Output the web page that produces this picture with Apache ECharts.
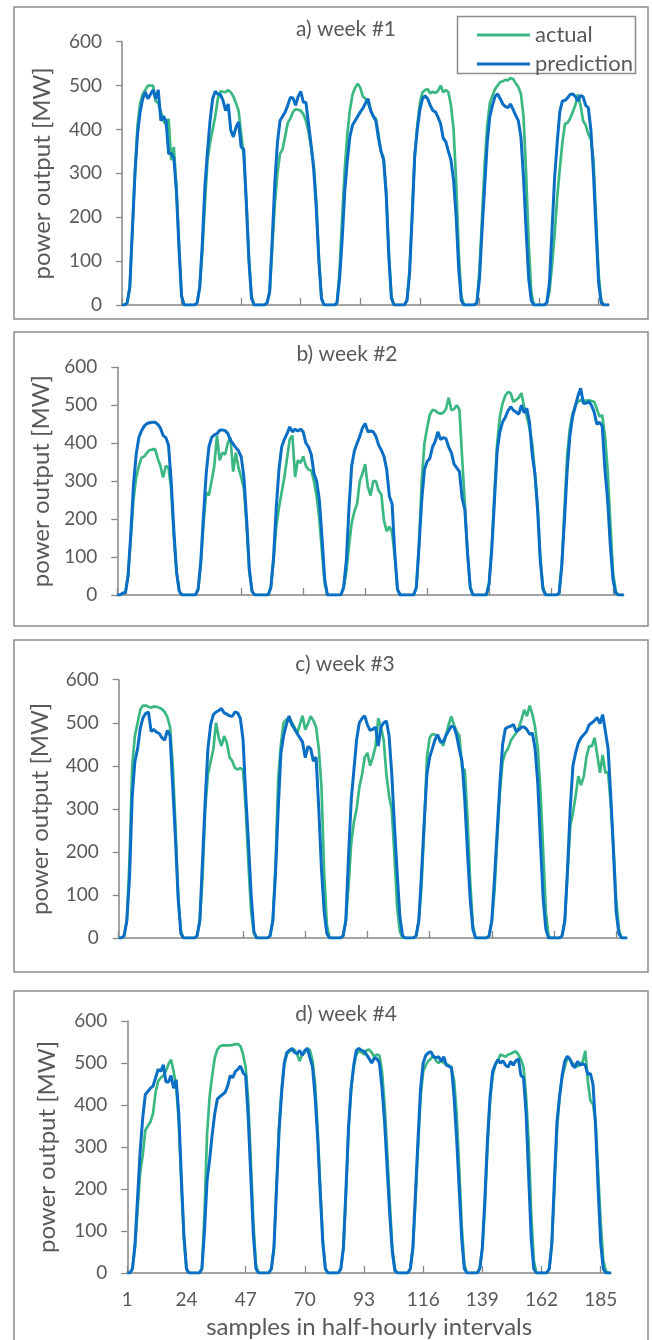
<!DOCTYPE html>
<html>
<head>
<meta charset="utf-8">
<script src="https://cdn.jsdelivr.net/npm/echarts@6/dist/echarts.min.js"></script>
<style>
html,body{margin:0;padding:0;background:#ffffff;}
#chart{width:652px;height:1340px;}
</style>
</head>
<body>
<div id="chart"></div>
<script>
// ---------------- DATA ----------------
// 189 half-hourly samples per week (7 days x 27 daytime samples)
const sampleCount = 189;
const xTickLabels = ['1','24','47','70','93','116','139','162','185'];
const yTickValues = [0,100,200,300,400,500,600];
const seriesNames = ['actual','prediction'];
const panelTitles = ['a) week #1','b) week #2','c) week #3','d) week #4'];
const yAxisTitle = 'power output [MW]';
const xAxisTitle = 'samples in half-hourly intervals';

const actualW1 = [
0,0,5,40,170,300,410,460,480,490,500,500,500,465,460,440,420,410,424,330,360,270,140,20,0,0,0,
0,0,5,40,120,230,330,370,400,430,470,487,486,485,490,485,475,460,443,390,340,240,110,20,0,0,0,
0,0,5,30,130,230,300,345,355,385,415,425,440,446,445,443,435,420,395,360,320,240,110,15,0,0,0,
0,0,5,80,200,310,390,445,480,495,504,495,475,470,458,445,430,425,390,350,335,260,120,20,0,0,0,
0,0,10,80,210,340,410,460,485,490,492,482,486,483,488,500,485,490,485,455,400,280,120,20,0,0,0,
0,0,5,80,200,320,410,460,477,492,500,508,510,513,512,517,515,505,497,481,430,300,140,30,0,0,0,
0,0,5,30,90,160,245,310,370,413,415,425,440,455,480,455,420,410,390,378,330,200,70,10,0,0,0];
const predictionW1 = [
0,0,5,40,170,300,390,440,470,485,470,480,490,470,490,420,430,420,345,345,335,260,130,20,0,0,0,
0,0,5,40,140,270,350,420,470,487,480,480,466,443,458,398,383,405,417,360,355,230,100,15,0,0,0,
0,0,5,30,150,280,370,420,430,440,455,473,472,455,475,487,462,462,413,365,310,220,100,15,0,0,0,
0,0,5,60,150,260,330,385,410,420,430,440,448,460,470,443,430,420,380,350,330,250,110,15,0,0,0,
0,0,10,70,200,340,400,445,470,477,470,455,443,440,428,413,380,372,350,330,285,200,80,10,0,0,0,
0,0,5,60,170,270,370,430,455,475,481,470,458,452,450,458,445,432,420,383,290,170,60,10,0,0,0,
0,0,5,50,170,290,370,440,465,466,472,480,481,475,465,477,475,455,450,400,300,170,50,5,0,0,0];

const actualW2 = [
0,0,5,5,50,150,250,310,340,362,365,375,382,383,385,360,340,310,340,335,280,150,60,10,0,0,0,
0,0,0,15,80,190,270,263,300,340,420,355,375,370,400,415,325,375,335,310,280,180,60,10,0,0,0,
0,0,0,20,90,180,230,270,310,360,410,420,311,355,348,365,340,330,328,300,260,200,110,30,0,0,0,
0,0,0,20,60,130,190,220,240,300,320,345,285,262,300,300,275,265,195,168,180,165,100,15,0,0,0,
0,0,0,20,130,300,400,440,475,488,486,480,478,480,490,520,487,490,500,488,360,240,110,20,0,0,0,
0,0,0,30,130,270,400,470,505,525,535,532,509,514,520,532,496,470,440,400,320,240,100,20,0,0,0,
0,0,5,80,230,370,440,478,500,510,513,512,512,513,511,509,490,470,474,420,330,190,60,10,0,0,0];
const predictionW2 = [
0,0,5,5,50,160,290,370,415,433,445,452,454,455,455,450,440,420,415,395,300,170,60,10,0,0,0,
0,0,0,15,90,210,320,390,415,422,425,434,435,433,426,408,398,388,380,364,310,200,70,10,0,0,0,
0,0,0,20,100,230,330,390,410,425,443,430,437,432,437,430,400,390,370,320,300,250,150,40,0,0,0,
0,0,0,20,90,230,340,380,400,418,440,452,430,432,430,418,395,382,365,330,260,240,110,15,0,0,0,
0,0,0,20,130,250,330,352,360,390,405,430,410,415,412,390,375,345,335,325,255,225,110,20,0,0,0,
0,0,0,30,120,250,380,430,456,468,485,496,487,482,476,500,480,492,455,370,320,225,90,15,0,0,0,
0,0,5,80,200,330,420,470,497,525,545,505,505,510,500,482,450,455,445,330,250,130,40,5,0,0,0];

const actualW3 = [
0,0,5,40,180,400,470,500,531,540,540,537,535,538,537,535,532,525,513,490,400,260,100,15,0,0,0,
0,0,5,40,140,300,380,410,438,500,465,446,469,453,420,411,395,391,395,390,300,170,60,10,0,0,0,
0,0,5,40,170,370,450,500,508,505,502,490,475,496,516,484,498,515,505,490,440,350,150,30,0,0,0,
0,0,5,40,120,220,270,300,350,380,420,430,400,420,445,510,490,460,380,330,298,190,70,15,0,0,0,
0,0,5,40,120,260,420,465,474,472,469,460,446,470,495,515,495,480,470,395,390,280,130,30,0,0,0,
0,0,5,40,110,230,340,410,430,440,458,468,476,488,508,530,515,540,520,490,440,340,200,60,5,0,0,
0,0,5,40,150,260,290,330,376,355,375,420,446,445,465,425,384,425,384,385,310,210,90,20,0,0,0];
const predictionW3 = [
0,0,5,40,140,330,410,440,488,512,522,525,480,484,478,475,465,460,482,470,350,229,90,10,0,0,0,
0,0,5,40,180,320,440,495,519,525,528,533,523,520,516,515,525,523,510,460,330,220,100,15,0,0,0,
0,0,5,40,150,300,430,470,495,516,496,486,475,465,455,419,445,440,411,420,300,160,60,10,0,0,0,
0,0,5,40,190,320,391,461,500,510,516,495,482,485,490,446,490,500,504,470,380,260,150,50,5,0,0,
0,0,5,40,150,270,380,420,440,461,472,455,455,470,481,492,490,470,438,410,320,200,90,20,0,0,0,
0,0,5,40,140,250,360,450,486,490,492,496,480,484,490,490,484,473,476,440,360,220,90,20,0,0,0,
0,0,5,40,160,300,400,430,453,465,472,480,495,500,505,512,498,519,480,440,330,200,60,10,0,0,0];

const actualW4 = [
0,0,10,60,150,240,280,340,350,360,380,430,457,465,470,481,497,508,480,445,360,210,80,10,0,0,0,
0,0,10,140,330,420,470,512,532,540,542,542,542,542,543,545,545,540,520,490,410,270,120,20,0,0,0,
0,0,10,60,210,350,440,495,520,528,530,532,520,505,520,525,535,530,505,450,340,200,80,10,0,0,0,
0,0,10,60,190,340,440,490,520,528,526,520,530,532,525,515,520,518,480,400,290,170,60,10,0,0,0,
0,0,10,60,170,300,420,480,495,505,510,518,505,500,505,500,497,495,485,460,380,250,110,20,0,0,0,
0,0,10,60,160,300,410,470,495,505,520,518,515,520,522,525,528,520,508,490,420,310,140,30,0,0,0,
0,0,10,70,200,340,420,465,490,512,508,500,495,492,497,503,529,457,410,402,360,240,120,30,5,0,0];
const predictionW4 = [
0,0,10,70,180,290,370,425,432,440,445,465,485,480,496,455,455,470,440,460,380,230,90,10,0,0,0,
0,0,10,100,220,270,330,380,414,420,425,430,445,470,465,480,485,493,477,470,370,230,90,10,0,0,0,
0,0,10,60,200,340,430,500,525,530,535,525,522,530,518,530,535,512,490,420,320,190,70,10,0,0,0,
0,0,10,60,200,350,440,495,530,535,530,528,520,510,500,512,510,500,440,360,250,140,50,5,0,0,0,
0,0,10,60,190,320,440,500,518,524,527,515,512,515,504,515,495,492,490,420,320,200,80,10,0,0,0,
0,0,10,60,180,320,420,480,496,508,500,505,495,490,504,495,505,510,470,465,380,230,80,10,0,0,0,
0,0,10,70,220,360,420,470,504,516,510,495,489,504,495,498,495,473,475,449,350,200,70,10,0,0,0];

const actualSeries = [actualW1, actualW2, actualW3, actualW4];
const predictionSeries = [predictionW1, predictionW2, predictionW3, predictionW4];

// ---------------- LAYOUT / STYLE ----------------
const FONT = 'Lato, "Liberation Sans", sans-serif';
const TEXT = '#595959';
const AXIS = '#868686';
const GREEN = '#3bb882';
const BLUE = '#0a6ec4';

const layout = [
  {grid:{left:122, top:41.7, width:487, height:263.3}, box:[14,7,634,312],  title:[346,29],   nameGap:68},
  {grid:{left:117.3, top:367.3, width:506.5, height:227.7}, box:[14,332,634,294], title:[347,354], nameGap:64},
  {grid:{left:118.7, top:679.7, width:508.3, height:258.3}, box:[14,640,634,332], title:[345,664], nameGap:66},
  {grid:{left:127.3, top:1021, width:483.7, height:255}, box:[14,991,634,360], title:[346,1014], nameGap:68}
];

const categories = [];
for (let i = 1; i <= sampleCount; i++) categories.push(String(i));

const grids = [], xAxes = [], yAxes = [], series = [], graphics = [];
layout.forEach((L, p) => {
  grids.push(Object.assign({containLabel:false}, L.grid));
  const isLast = p === 3;
  xAxes.push({
    gridIndex:p, type:'category', data:categories, boundaryGap:false,
    axisLine:{show:true, onZero:false, lineStyle:{color:AXIS, width:1.5}},
    axisTick:{show:true, inside:true, length:7, interval:22, lineStyle:{color:AXIS, width:1.3}},
    axisLabel:{show:isLast, interval:22, color:TEXT, fontSize:19, fontFamily:FONT, margin:17,
      formatter: v => (xTickLabels.indexOf(v) >= 0 ? v : '')},
    splitLine:{show:false},
    name: isLast ? xAxisTitle : '', nameLocation:'middle', nameGap:42,
    nameTextStyle:{color:TEXT, fontSize:24, fontFamily:FONT}
  });
  yAxes.push({
    gridIndex:p, type:'value', min:yTickValues[0], max:yTickValues[yTickValues.length-1], interval:100,
    axisLine:{show:true, lineStyle:{color:AXIS, width:1.5}},
    axisTick:{show:true, inside:false, length:6, lineStyle:{color:AXIS, width:1.3}},
    axisLabel:{color:TEXT, fontSize:19, fontFamily:FONT, margin:20},
    splitLine:{show:false},
    name:yAxisTitle, nameLocation:'middle', nameGap:L.nameGap,
    nameTextStyle:{color:TEXT, fontSize:24, fontFamily:FONT}
  });
  series.push({
    name:seriesNames[0], type:'line', xAxisIndex:p, yAxisIndex:p, data:actualSeries[p],
    showSymbol:false, symbol:'none', smooth:false, animation:false,
    lineStyle:{color:GREEN, width:2.7}, itemStyle:{color:GREEN}, z:2
  });
  series.push({
    name:seriesNames[1], type:'line', xAxisIndex:p, yAxisIndex:p, data:predictionSeries[p],
    showSymbol:false, symbol:'none', smooth:false, animation:false,
    lineStyle:{color:BLUE, width:3}, itemStyle:{color:BLUE}, z:3
  });
  graphics.push({
    type:'rect', silent:true, z:0,
    shape:{x:L.box[0], y:L.box[1], width:L.box[2], height:L.box[3]},
    style:{fill:'none', stroke:'#8c8c8c', lineWidth:1.5}
  });
  graphics.push({
    type:'text', silent:true, x:L.title[0], y:L.title[1],
    style:{text:panelTitles[p], fill:TEXT, font:'21px ' + FONT, textAlign:'center', textVerticalAlign:'middle'}
  });
});

// legend frame
graphics.push({
  type:'rect', silent:true, z:5,
  shape:{x:457.5, y:16.5, width:178, height:57},
  style:{fill:'#ffffff', stroke:'#8c8c8c', lineWidth:1.5}
});

const chart = echarts.init(document.getElementById('chart'), null, {renderer:'canvas'});
chart.setOption({
  animation:false,
  backgroundColor:'#ffffff',
  grid:grids, xAxis:xAxes, yAxis:yAxes, series:series,
  graphic:graphics,
  legend:{
    data:seriesNames, orient:'vertical', left:472, top:19, z:10,
    icon:'rect', itemWidth:53, itemHeight:3, itemGap:7,
    textStyle:{color:TEXT, fontSize:22, fontFamily:FONT, padding:[0,0,0,0]},
    selectedMode:false
  },
  tooltip:{show:false}
});
</script>
</body>
</html>
